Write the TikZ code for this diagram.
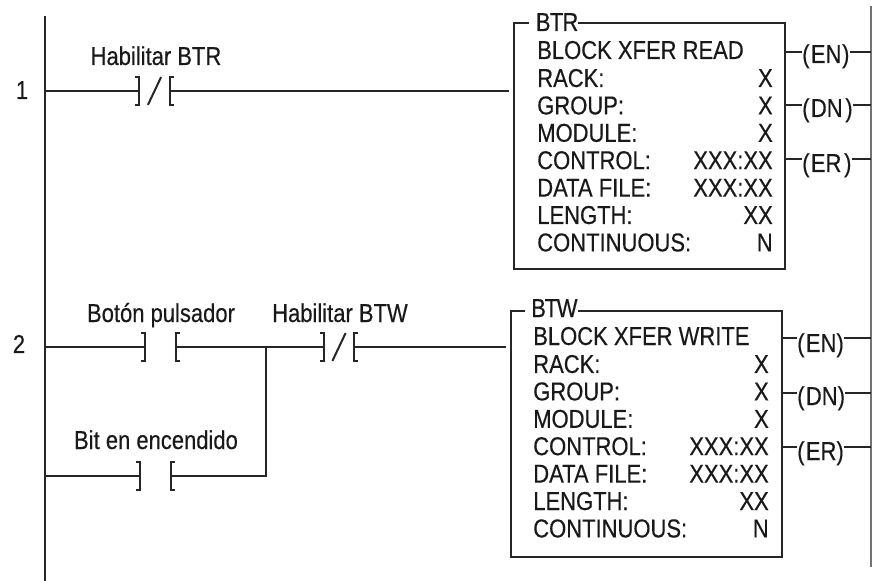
\documentclass[tikz,border=0pt]{standalone}
\usepackage{fontspec}
\setmainfont[FakeStretch=0.85,FakeBold=0.35]{Liberation Sans}
\usetikzlibrary{positioning}

\begin{document}
\begin{tikzpicture}[x=0.75pt,y=-0.75pt]

        \tikzstyle{wire} = [line width=1.5pt, color=black!85]
        \tikzstyle{contact} = [rectangle, minimum width=22.5pt, minimum height=20.5pt, inner sep=0pt, draw=none]
        \tikzstyle{txt} = [inner sep=0pt, anchor=base, text=black!90, font=\fontsize{19.4}{21}\selectfont]
        \tikzstyle{rowtxt} = [txt, anchor=base west]
        \tikzstyle{valtxt} = [txt, anchor=base east]
        \tikzstyle{title} = [txt, anchor=base west, fill=white]
        \tikzstyle{coil} = [txt, anchor=base west]
        \tikzstyle{block} = [rectangle, draw=black!85, line width=1.5pt, minimum width=203pt, minimum height=184.5pt, inner sep=0pt]

        \useasboundingbox (0,0) rectangle (872,581);

        % Rails
        \coordinate (ltop) at (45,16);
        \coordinate (lbot) at (45,581);
        \coordinate (rtop) at (871,6);
        \coordinate (rbot) at (871,567);
        \draw [wire] (ltop) -- (lbot);
        \draw [line width=0.8pt, color=black!55] (rtop) -- (rbot);

        \node (n1) [txt] at (22,99) {1};
        \node (n2) [txt] at (19,353) {2};

        % Contacts
        \node (btr) [contact] at (154.5,91) {};
        \node (push) [contact] at (160.5,347) {};
        \node (bit) [contact] at (155.5,476) {};
        \node (btw) [contact] at (339,347) {};
        \node [txt] at (156,65) {Habilitar BTR};
        \node [txt] at (161,322) {Botón pulsador};
        \node [txt] at (340,322) {Habilitar BTW};
        \node [txt] at (156,449) {Bit en encendido};

        \foreach \c in {btr,push,bit,btw} {
            \draw [wire] ([xshift=-3pt]\c.north west) -- (\c.north west) -- (\c.south west) -- ([xshift=-3pt]\c.south west);
            \draw [wire] ([xshift=3pt]\c.north east) -- (\c.north east) -- (\c.south east) -- ([xshift=3pt]\c.south east);
        }
        \foreach \c in {btr,btw} {
            \draw [wire] ([xshift=6.5pt]\c.south west) -- ([xshift=-6.5pt]\c.north east);
        }

        % Blocks
        \node (read) [block] at (649.5,146) {};
        \node (write) [block] at (646.5,434) {};
        \node [title] at (529,31) {\hspace{5pt}\addfontfeature{LetterSpace=-3}BTR};
        \node [title] at (525,317) {\hspace{4.5pt}\addfontfeature{LetterSpace=-5}BTW};

        \foreach \y/\l/\v in {87/RACK:/X,114.4/GROUP:/X,141.8/MODULE:/X,169.2/CONTROL:/XXX:XX,196.6/DATA FILE:/XXX:XX,224/LENGTH:/XX,251.4/CONTINUOUS:/N} {
            \node [rowtxt] at (537,\y) {\l};
            \node [valtxt] at (773,\y) {\v};
        }
        \node [rowtxt] at (537,59) {BLOCK XFER READ};

        \foreach \y/\l/\v in {373/RACK:/X,400.4/GROUP:/X,427.8/MODULE:/X,455.2/CONTROL:/XXX:XX,482.6/DATA FILE:/XXX:XX,510/LENGTH:/XX,537.4/CONTINUOUS:/N} {
            \node [rowtxt] at (533,\y) {\l};
            \node [valtxt] at (769,\y) {\v};
        }
        \node [rowtxt] at (533,345) {BLOCK XFER WRITE};

        % Coils
        \node (en1) [coil] at (802,63) {(\kern1pt EN\kern0.5pt)};
        \node (dn1) [coil] at (802,117) {(\kern1pt DN\kern2pt)};
        \node (er1) [coil] at (802,172) {(\kern1pt ER\kern2pt)};
        \node (en2) [coil] at (797,352) {(\kern1pt EN)};
        \node (dn2) [coil] at (797,405) {(\kern1pt DN)};
        \node (er2) [coil] at (797,460) {(\kern1pt ER)};

        \foreach \c/\b/\y in {en1/read/52,dn1/read/105,er1/read/159,en2/write/338,dn2/write/393,er2/write/447} {
            \draw [wire] (\b.east |- 0,\y) -- (\c.west |- 0,\y);
            \draw [wire] (\c.east |- 0,\y) -- (rtop |- 0,\y);
        }

        % Rungs
        \draw [wire] (ltop |- btr) -- (btr.west);
        \draw [wire] (btr.east) -- ([xshift=-3pt]read.west |- btr);
        \draw [wire] (ltop |- push) -- (push.west);
        \draw [wire] (ltop |- bit) -- (bit.west);
        \draw [wire] (push.east) -- (btw.west);
        \draw [wire] (btw.east) -- ([xshift=-3pt]write.west |- btw);
        \coordinate (join) at (266,347);
        \draw [wire] (bit.east) -| (join);

    \end{tikzpicture}
\end{document}
